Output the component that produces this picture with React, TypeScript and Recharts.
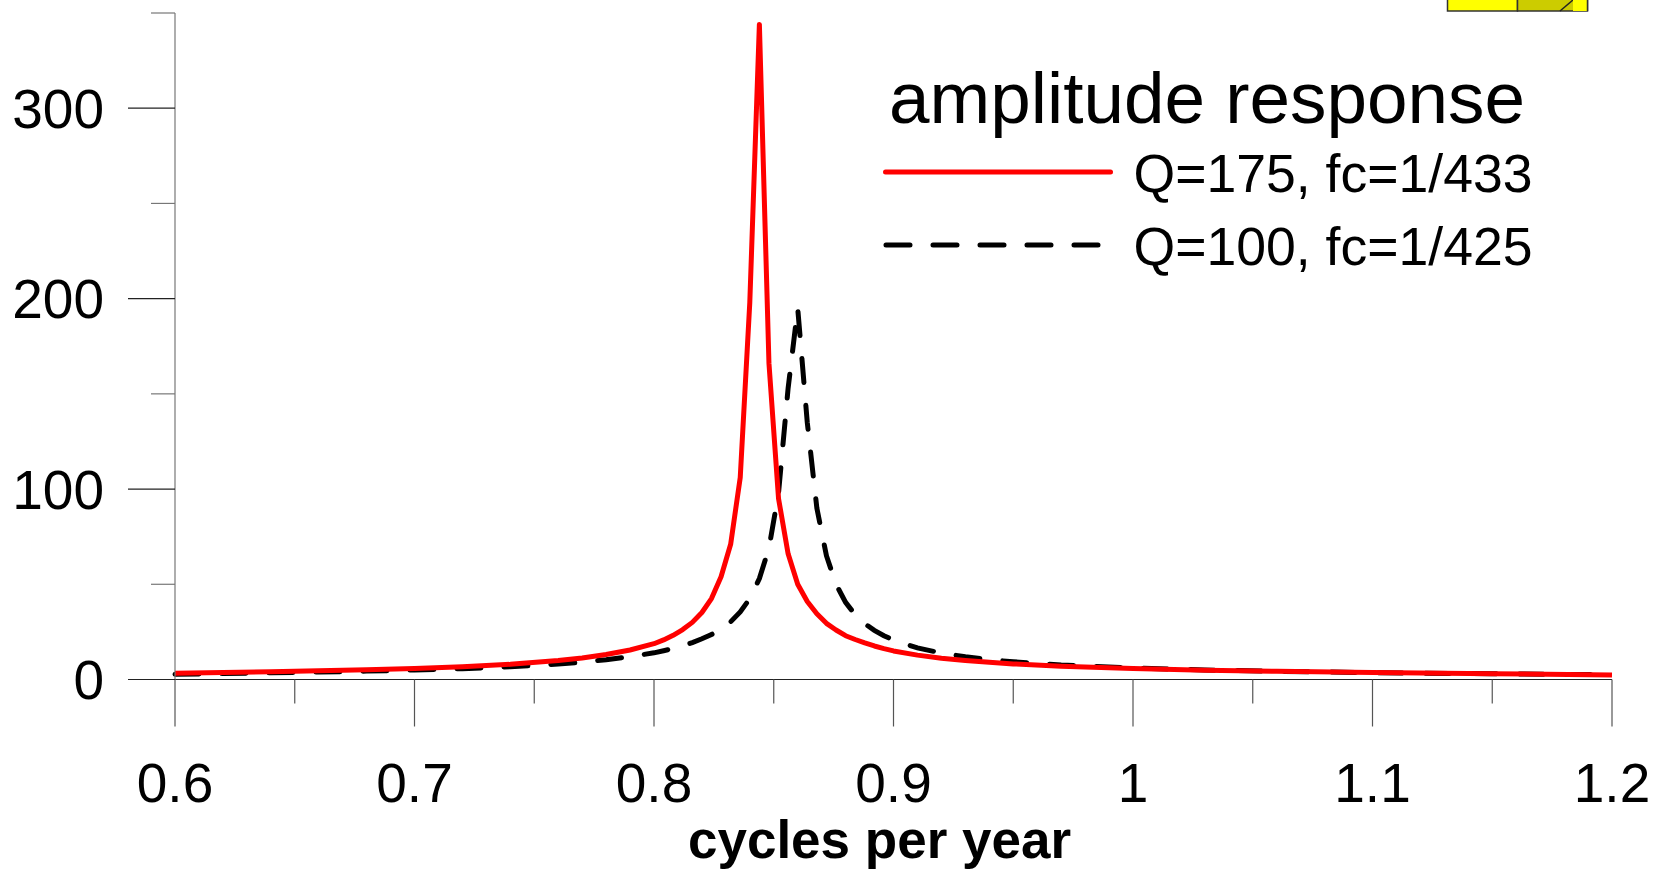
import { LineChart, Line, XAxis, YAxis, Legend } from 'recharts';

// frequency grid (cycles per year) and amplitudes
const freq = [
  0.6, 0.62, 0.64, 0.66, 0.68, 0.7, 0.72, 0.74, 0.76, 0.77, 0.78, 0.79,
  0.8, 0.804, 0.808, 0.812, 0.816, 0.82, 0.824, 0.828, 0.832, 0.836, 0.84, 0.844, 0.848,
  0.852, 0.856, 0.86, 0.864, 0.868, 0.872, 0.876, 0.88, 0.884, 0.888, 0.892, 0.896, 0.9,
  0.91, 0.92, 0.93, 0.94, 0.95, 0.97, 1.0, 1.03, 1.06, 1.1, 1.15, 1.2,
];
const ampQ175 = [
  3.3, 3.7, 4.1, 4.6, 5.1, 5.8, 6.7, 8.0, 10.0, 11.3, 13.1, 15.5,
  18.8, 20.8, 23.2, 26.2, 30.0, 35.2, 42.5, 54, 71, 106, 198, 344, 166,
  95, 66, 50, 41, 34.5, 29.5, 26, 23, 21, 19.2, 17.6, 16.2, 15,
  12.8, 11.2, 10, 9, 8.2, 7, 5.8, 4.9, 4.3, 3.7, 3.0, 2.4,
];
const ampQ100 = [
  2.8, 3.1, 3.5, 3.9, 4.4, 5.0, 5.7, 6.7, 8.1, 9.1, 10.4, 12.0,
  14.0, 15.1, 16.3, 17.7, 19.4, 21.4, 23.6, 26.5, 30.3, 35.5, 42.5, 53, 69,
  98, 153, 195, 135, 90, 65, 50, 40.5, 34, 29.3, 25.8, 23, 20.7,
  16.6, 13.9, 11.9, 10.4, 9.3, 7.6, 6.1, 5.0, 4.3, 3.6, 3.0, 2.5,
];

const xTicks = [0.6, 0.65, 0.7, 0.75, 0.8, 0.85, 0.9, 0.95, 1, 1.05, 1.1, 1.15, 1.2];
const xTickLabels = ['0.6', '', '0.7', '', '0.8', '', '0.9', '', '1', '', '1.1', '', '1.2'];
const yTicks = [0, 50, 100, 150, 200, 250, 300, 350];
const yTickLabels = ['0', '', '100', '', '200', '', '300', ''];
const seriesNames = ['Q=175, fc=1/433', 'Q=100, fc=1/425'];
const legendTitle = 'amplitude response';
const xTitle = 'cycles per year';

const rows = freq.map((f, i) => ({ f, q175: ampQ175[i], q100: ampQ100[i] }));

const FONT = '"Liberation Sans", Arial, sans-serif';
const DASH = '24 23';

function XTick(props: any) {
  const { x, y, payload } = props;
  const i = xTicks.findIndex((t) => Math.abs(t - payload.value) < 1e-9);
  const label = xTickLabels[i] ?? '';
  const major = label !== '';
  return (
    <g>
      <line x1={x} y1={y} x2={x} y2={y + (major ? 47 : 24)} stroke="#555" strokeWidth={1.2} />
      {major && (
        <text x={x} y={y + 122.5} textAnchor="middle" fontSize={55} fontFamily={FONT} fill="#000">
          {label}
        </text>
      )}
    </g>
  );
}

function YTick(props: any) {
  const { x, y, payload } = props;
  const i = yTicks.indexOf(payload.value);
  const label = yTickLabels[i] ?? '';
  const major = label !== '';
  return (
    <g>
      <line x1={x} y1={y} x2={x - (major ? 47 : 24)} y2={y} stroke={major ? '#222' : '#777'} strokeWidth={1.2} />
      {major && (
        <text x={x - 71} y={y + 19.7} textAnchor="end" fontSize={55} fontFamily={FONT} fill="#000">
          {label}
        </text>
      )}
    </g>
  );
}

function XTitle(props: any) {
  const vb = props.viewBox;
  return (
    <text
      x={vb.x + vb.width / 2 - 14}
      y={vb.y + 178.5}
      textAnchor="middle"
      fontSize={53}
      fontWeight="bold"
      fontFamily={FONT}
      fill="#000"
    >
      {xTitle}
    </text>
  );
}

function LegendBox() {
  return (
    <svg width={1657} height={300} style={{ display: 'block' }}>
      <text x={889} y={123} fontSize={73} fontFamily={FONT} fill="#000" textLength={636} lengthAdjust="spacingAndGlyphs">
        {legendTitle}
      </text>
      <line x1={885.5} y1={172} x2={1110.5} y2={172} stroke="#ff0000" strokeWidth={5} strokeLinecap="round" />
      <text x={1133.5} y={191.5} fontSize={53} fontFamily={FONT} fill="#000" textLength={399} lengthAdjust="spacingAndGlyphs">
        {seriesNames[0]}
      </text>
      <line
        x1={886}
        y1={245}
        x2={1098}
        y2={245}
        stroke="#000"
        strokeWidth={5}
        strokeLinecap="round"
        strokeDasharray={DASH}
      />
      <text x={1133.5} y={264.5} fontSize={53} fontFamily={FONT} fill="#000" textLength={399} lengthAdjust="spacingAndGlyphs">
        {seriesNames[1]}
      </text>
    </svg>
  );
}

export default function App() {
  return (
    <div style={{ position: 'absolute', left: 0, top: 0, width: 1657, height: 869, background: '#fff' }}>
      <LineChart width={1657} height={869} data={rows} margin={{ top: 13, right: 45, bottom: 39.5, left: 0 }}>
        <XAxis
          dataKey="f"
          type="number"
          domain={[0.6, 1.2]}
          ticks={xTicks}
          interval={0}
          height={150}
          tickSize={0}
          tickMargin={0}
          tickLine={false}
          axisLine={{ stroke: '#222', strokeWidth: 1.2 }}
          tick={<XTick />}
          label={XTitle}
        />
        <YAxis
          type="number"
          domain={[0, 350]}
          ticks={yTicks}
          interval={0}
          width={175}
          tickSize={0}
          tickMargin={0}
          tickLine={false}
          axisLine={{ stroke: '#777', strokeWidth: 1.2 }}
          tick={<YTick />}
        />
        <Legend
          layout="horizontal"
          align="center"
          verticalAlign="middle"
          wrapperStyle={{ left: 0, top: 0, width: 1657, height: 300, pointerEvents: 'none' }}
          content={() => <LegendBox />}
        />
        <Line
          type="linear"
          dataKey="q100"
          name={seriesNames[1]}
          stroke="#000"
          strokeWidth={5}
          strokeLinecap="round"
          strokeDasharray={DASH}
          dot={false}
          activeDot={false}
          isAnimationActive={false}
        />
        <Line
          type="linear"
          dataKey="q175"
          name={seriesNames[0]}
          stroke="#ff0000"
          strokeWidth={5}
          strokeLinejoin="round"
          dot={false}
          activeDot={false}
          isAnimationActive={false}
        />
      </LineChart>
      {/* partly cut-off yellow badge in the top right corner */}
      <svg width={160} height={14} style={{ position: 'absolute', left: 1440, top: 0 }}>
        <rect x={7.5} y={-5} width={70} height={16} fill="#ffff00" stroke="#333" strokeWidth={1.5} />
        <rect x={77.5} y={-5} width={70} height={16} fill="#cccc00" stroke="#333" strokeWidth={1.5} />
        <line x1={120} y1={11} x2={133} y2={0} stroke="#222" strokeWidth={1.5} />
        <rect x={133} y={-5} width={14.5} height={16} fill="#ffff00" stroke="none" />
        <line x1={147.5} y1={-5} x2={147.5} y2={11} stroke="#333" strokeWidth={1.5} />
      </svg>
    </div>
  );
}
